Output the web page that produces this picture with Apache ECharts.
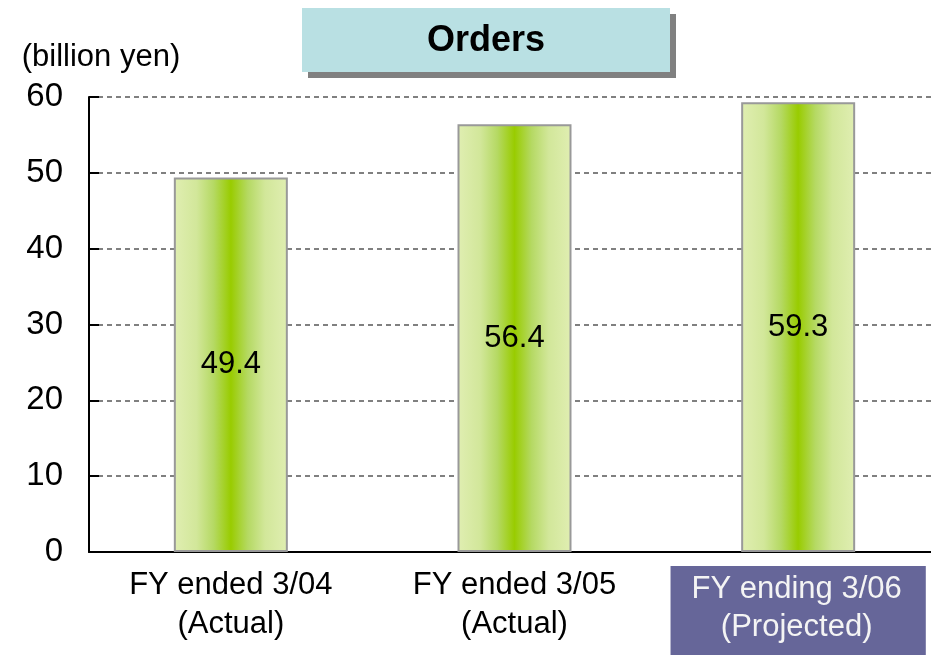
<!DOCTYPE html>
<html>
<head>
<meta charset="utf-8">
<script src="https://cdn.jsdelivr.net/npm/echarts@6/dist/echarts.min.js"></script>
<style>
  html, body { margin: 0; padding: 0; background: #fff; }
  #chart { width: 931px; height: 655px; }
</style>
</head>
<body>
<div id="chart"></div>
<script>
const categories = ['FY ended 3/04\n(Actual)', 'FY ended 3/05\n(Actual)', 'FY ending 3/06\n(Projected)']
const orders = [49.4, 56.4, 59.3]
const yTicks = { min: 0, max: 60, interval: 10 }

const font = 'Liberation Sans, Arial, sans-serif'

const barColor = {
    type: 'linear', x: 0, y: 0, x2: 1, y2: 0,
    colorStops: [
        { offset: 0, color: '#e0eeb2' },
        { offset: 0.2, color: '#d2e79a' },
        { offset: 0.35, color: '#b5d963' },
        { offset: 0.5, color: '#99cc00' },
        { offset: 0.65, color: '#b5d963' },
        { offset: 0.8, color: '#d2e79a' },
        { offset: 1, color: '#e0eeb2' }
    ]
}

const catData = categories.map((c, i) => {
    if (i === 2) {
        return {
            value: c,
            textStyle: {
                color: '#f4f4f4',
                backgroundColor: '#666699',
                padding: [4, 24, 14, 21],
                lineHeight: 38
            }
        }
    }
    return c
})

const option = {
    animation: false,
    textStyle: { fontFamily: font },
    grid: { left: 89, right: -9, top: 97, bottom: 103, outerBoundsMode: 'none', containLabel: false },
    graphic: [
        { type: 'rect', shape: { x: 308, y: 14, width: 368, height: 64 }, style: { fill: '#808080' } },
        { type: 'rect', shape: { x: 302, y: 8, width: 368, height: 64 }, style: { fill: '#b9e0e3' } },
        { type: 'text', x: 486, y: 41, style: { text: 'Orders', font: 'bold 36px ' + font, fill: '#000', align: 'center', verticalAlign: 'middle' } }
    ],
    xAxis: {
        type: 'category',
        data: catData,
        axisLine: { lineStyle: { color: '#000', width: 2 } },
        axisTick: { inside: true, length: 10, lineStyle: { color: '#000', width: 2 } },
        axisLabel: { fontSize: 31, color: '#000', lineHeight: 39, margin: 14, fontFamily: font }
    },
    yAxis: {
        type: 'value',
        min: yTicks.min, max: yTicks.max, interval: yTicks.interval,
        name: '(billion yen)',
        nameLocation: 'end',
        nameGap: 20,
        nameTextStyle: { fontSize: 31, color: '#000', align: 'center', padding: [0, 0, 4, 24], fontFamily: font },
        axisLine: { show: true, lineStyle: { color: '#000', width: 2 } },
        axisTick: { show: true, inside: true, length: 10, lineStyle: { color: '#000', width: 2 } },
        axisLabel: { fontSize: 33, color: '#000', margin: 26, fontFamily: font },
        splitLine: { show: true, lineStyle: { color: '#808080', type: [5, 4], width: 2 } }
    },
    series: [{
        type: 'bar',
        data: orders,
        barWidth: 114,
        itemStyle: { color: barColor, borderColor: '#999999', borderWidth: 2 },
        label: {
            show: true, position: 'inside', fontSize: 31, color: '#000',
            offset: [0, 0], fontFamily: font
        }
    }]
}

const chart = echarts.init(document.getElementById('chart'))
chart.setOption(option)
</script>
</body>
</html>
